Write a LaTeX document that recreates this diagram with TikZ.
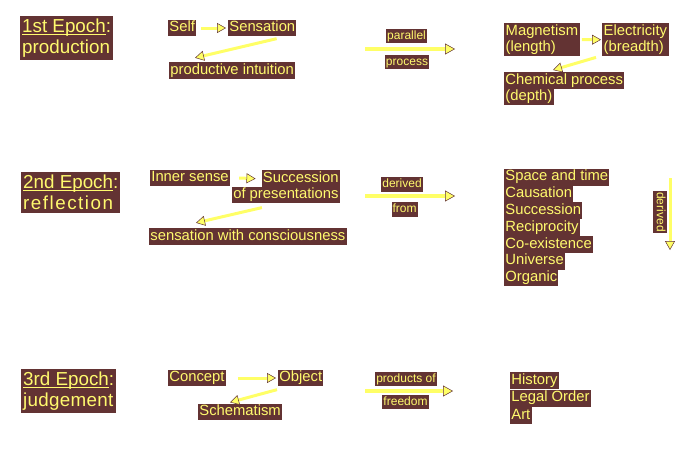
\documentclass[tikz,border=0pt]{standalone}
\usepackage{fontspec}
\setmainfont{Liberation Sans}
\newfontfamily\spacedA[LetterSpace=8]{Liberation Sans}
\newfontfamily\spacedB[LetterSpace=1.5]{Liberation Sans}
\usetikzlibrary{arrows.meta}
\newcommand\myul[1]{\setbox0\hbox{#1}\rlap{\rule[-2pt]{\wd0}{0.9pt}}\box0}
\definecolor{dbrown}{RGB}{99,51,51}
\definecolor{tyellow}{RGB}{255,250,110}
\definecolor{ayellow}{RGB}{255,255,102}
\tikzset{
  lbl/.style={fill=dbrown, text=tyellow, inner sep=1.2pt, font=\fontsize{14.8}{16}\selectfont, text height=11pt, text depth=3.5pt},
  lbltwo/.style={fill=dbrown, text=tyellow, inner sep=1.5pt, font=\fontsize{14.8}{16.2}\selectfont, align=left},
  small/.style={fill=dbrown, text=tyellow, inner sep=1pt, font=\fontsize{12}{14}\selectfont, text height=9.3pt, text depth=2.8pt},
  title/.style={fill=dbrown, text=tyellow, inner xsep=2pt, inner ysep=3pt, align=left, anchor=north west, font=\fontsize{18.8}{20.5}\selectfont},
  arr/.style={draw=ayellow, line width=3pt, -{Triangle[length=9pt,width=10pt,color=dbrown,fill=ayellow,line width=0.5pt]}},
  bigarr/.style={draw=ayellow, line width=3.5pt, -{Triangle[length=10pt,width=11pt,color=dbrown,fill=ayellow,line width=0.5pt]}}
}
\begin{document}
\begin{tikzpicture}[x=1pt,y=-1pt]
\useasboundingbox (0,0) rectangle (700,450);
% ---------- Row 1 ----------
\node[title] (t1) at (20,16) {\myul{1st Epoch}:\\production};
\node[lbl, anchor=west] (self) at (168,28) {Self};
\node[lbl, anchor=west] (sens) at (228,28) {Sensation};
\node[lbl, anchor=west] (prod) at (169,70.5) {productive intuition};
\draw[arr] ([xshift=5pt]self.east) -- ([xshift=-2pt]sens.west);
\draw[arr] ([xshift=-20pt,yshift=-2pt]sens.south east) -- ([xshift=26pt,yshift=4pt]prod.north west);
\coordinate (p1s) at (365,49);
\coordinate (p1e) at (455,49);
\draw[bigarr] (p1s) -- (p1e);
\node[small] (par) at (406.5,36) {parallel};
\node[small] (proc) at (407,62) {process};
\node[lbltwo, anchor=north west] (mag) at (504,23) {Magnetism\\(length)};
\node[lbltwo, anchor=north west] (elec) at (602,23) {Electricity\\(breadth)};
\node[lbl, anchor=north west] (chem) at (504,72) {Chemical process};
\node[lbl, anchor=north west] (depth) at (504,88.3) {(depth)};
\draw[arr] ([xshift=2pt]mag.east) -- ([xshift=-1pt]elec.west);
\draw[arr] ([xshift=-6pt,yshift=-1pt]elec.south west) -- ([xshift=49pt,yshift=2pt]chem.north west);
% ---------- Row 2 ----------
\node[title] (t2) at (21,172) {\myul{2nd Epoch}:\\{\spacedA reflection}};
\node[lbl, anchor=west] (inner) at (150,178) {Inner sense};
\node[lbl, anchor=north east] (succ) at (340,170) {Succession};
\node[lbl, anchor=north east] (ofp) at (340,186.3) {of presentations};
\node[lbl, anchor=west] (scon) at (149,236.5) {sensation with consciousness};
\draw[arr] ([xshift=9pt]inner.east) -- ([xshift=-6pt]succ.west);
\draw[arr] ([xshift=30pt,yshift=-4pt]ofp.south west) -- ([xshift=47pt,yshift=5pt]scon.north west);
\coordinate (p2s) at (365,196);
\coordinate (p2e) at (455,196);
\draw[bigarr] (p2s) -- (p2e);
\node[small] (der) at (402,184.5) {derived};
\node[small] (from) at (404.5,209.5) {from};
\node[lbl, anchor=north west] (c1) at (504,168.5) {Space and time};
\node[lbl, anchor=north west] (c2) at (504,185.3) {Causation};
\node[lbl, anchor=north west] (c3) at (504,202.1) {Succession};
\node[lbl, anchor=north west] (c4) at (504,218.9) {Reciprocity};
\node[lbl, anchor=north west] (c5) at (504,235.7) {Co-existence};
\node[lbl, anchor=north west] (c6) at (504,252.5) {Universe};
\node[lbl, anchor=north west] (c7) at (504,269.3) {Organic};
\coordinate (d1) at (670,178);
\coordinate (d2) at (670,250);
\draw[arr] (d1) -- (d2);
\node[small, rotate=-90] (dv) at (660,212) {derived};
% ---------- Row 3 ----------
\node[title] (t3) at (21,369) {\myul{3rd Epoch}:\\{\spacedB judgement}};
\node[lbl, anchor=west] (conc) at (168,378) {Concept};
\node[lbl, anchor=west] (obj) at (278,378) {Object};
\node[lbl, anchor=west] (sch) at (198,412) {Schematism};
\draw[arr] ([xshift=12pt]conc.east) -- ([xshift=-2pt]obj.west);
\draw[arr] ([xshift=-1pt,yshift=-3pt]obj.south west) -- ([xshift=32pt,yshift=1pt]sch.north west);
\coordinate (p3s) at (365,391);
\coordinate (p3e) at (453,391);
\draw[bigarr] (p3s) -- (p3e);
\node[small] (prof) at (406,379) {products of};
\node[small] (free) at (405.5,402) {freedom};
\node[lbl, anchor=north west] (h1) at (510,372) {History};
\node[lbl, anchor=north west] (h2) at (510,389.5) {Legal Order};
\node[lbl, anchor=north west] (h3) at (510,407) {Art};
\end{tikzpicture}
\end{document}
